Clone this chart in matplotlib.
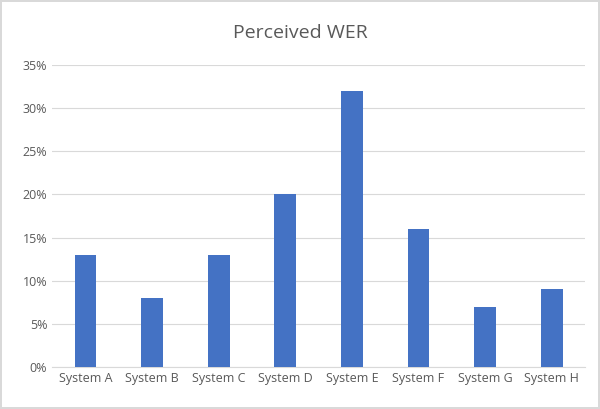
import matplotlib

matplotlib.use("Agg")
import matplotlib.pyplot as plt
from matplotlib.ticker import PercentFormatter

systems = ["System A", "System B", "System C", "System D",
           "System E", "System F", "System G", "System H"]
wer = [13, 8, 13, 20, 32, 16, 7, 9]
y_ticks = [0, 5, 10, 15, 20, 25, 30, 35]

plt.rcParams["font.family"] = "Open Sans"
fig = plt.figure(figsize=(6, 4.09), dpi=100)
fig.patch.set_edgecolor("#d9d9d9")
fig.patch.set_linewidth(1.5)
ax = fig.add_axes([0.087, 0.103, 0.888, 0.738])

x = range(len(systems))
ax.bar(x, wer, width=0.33, color="#4472C4", zorder=3)
ax.set_xlim(-0.5, len(systems) - 0.5)
ax.set_ylim(0, 35)
ax.set_yticks(y_ticks)
ax.yaxis.set_major_formatter(PercentFormatter(decimals=0))
ax.set_xticks(list(x))
ax.set_xticklabels(systems)
ax.tick_params(axis="both", length=0, labelsize=9, colors="#595959")
ax.grid(axis="y", color="#d9d9d9", linewidth=0.8, zorder=0)
for side in ["top", "right", "left"]:
    ax.spines[side].set_visible(False)
ax.spines["bottom"].set_color("#d9d9d9")
fig.text(0.5, 0.92, "Perceived WER", ha="center", va="center",
         fontsize=14, color="#595959")

fig.savefig("out.png", dpi=100)
plt.close(fig)
